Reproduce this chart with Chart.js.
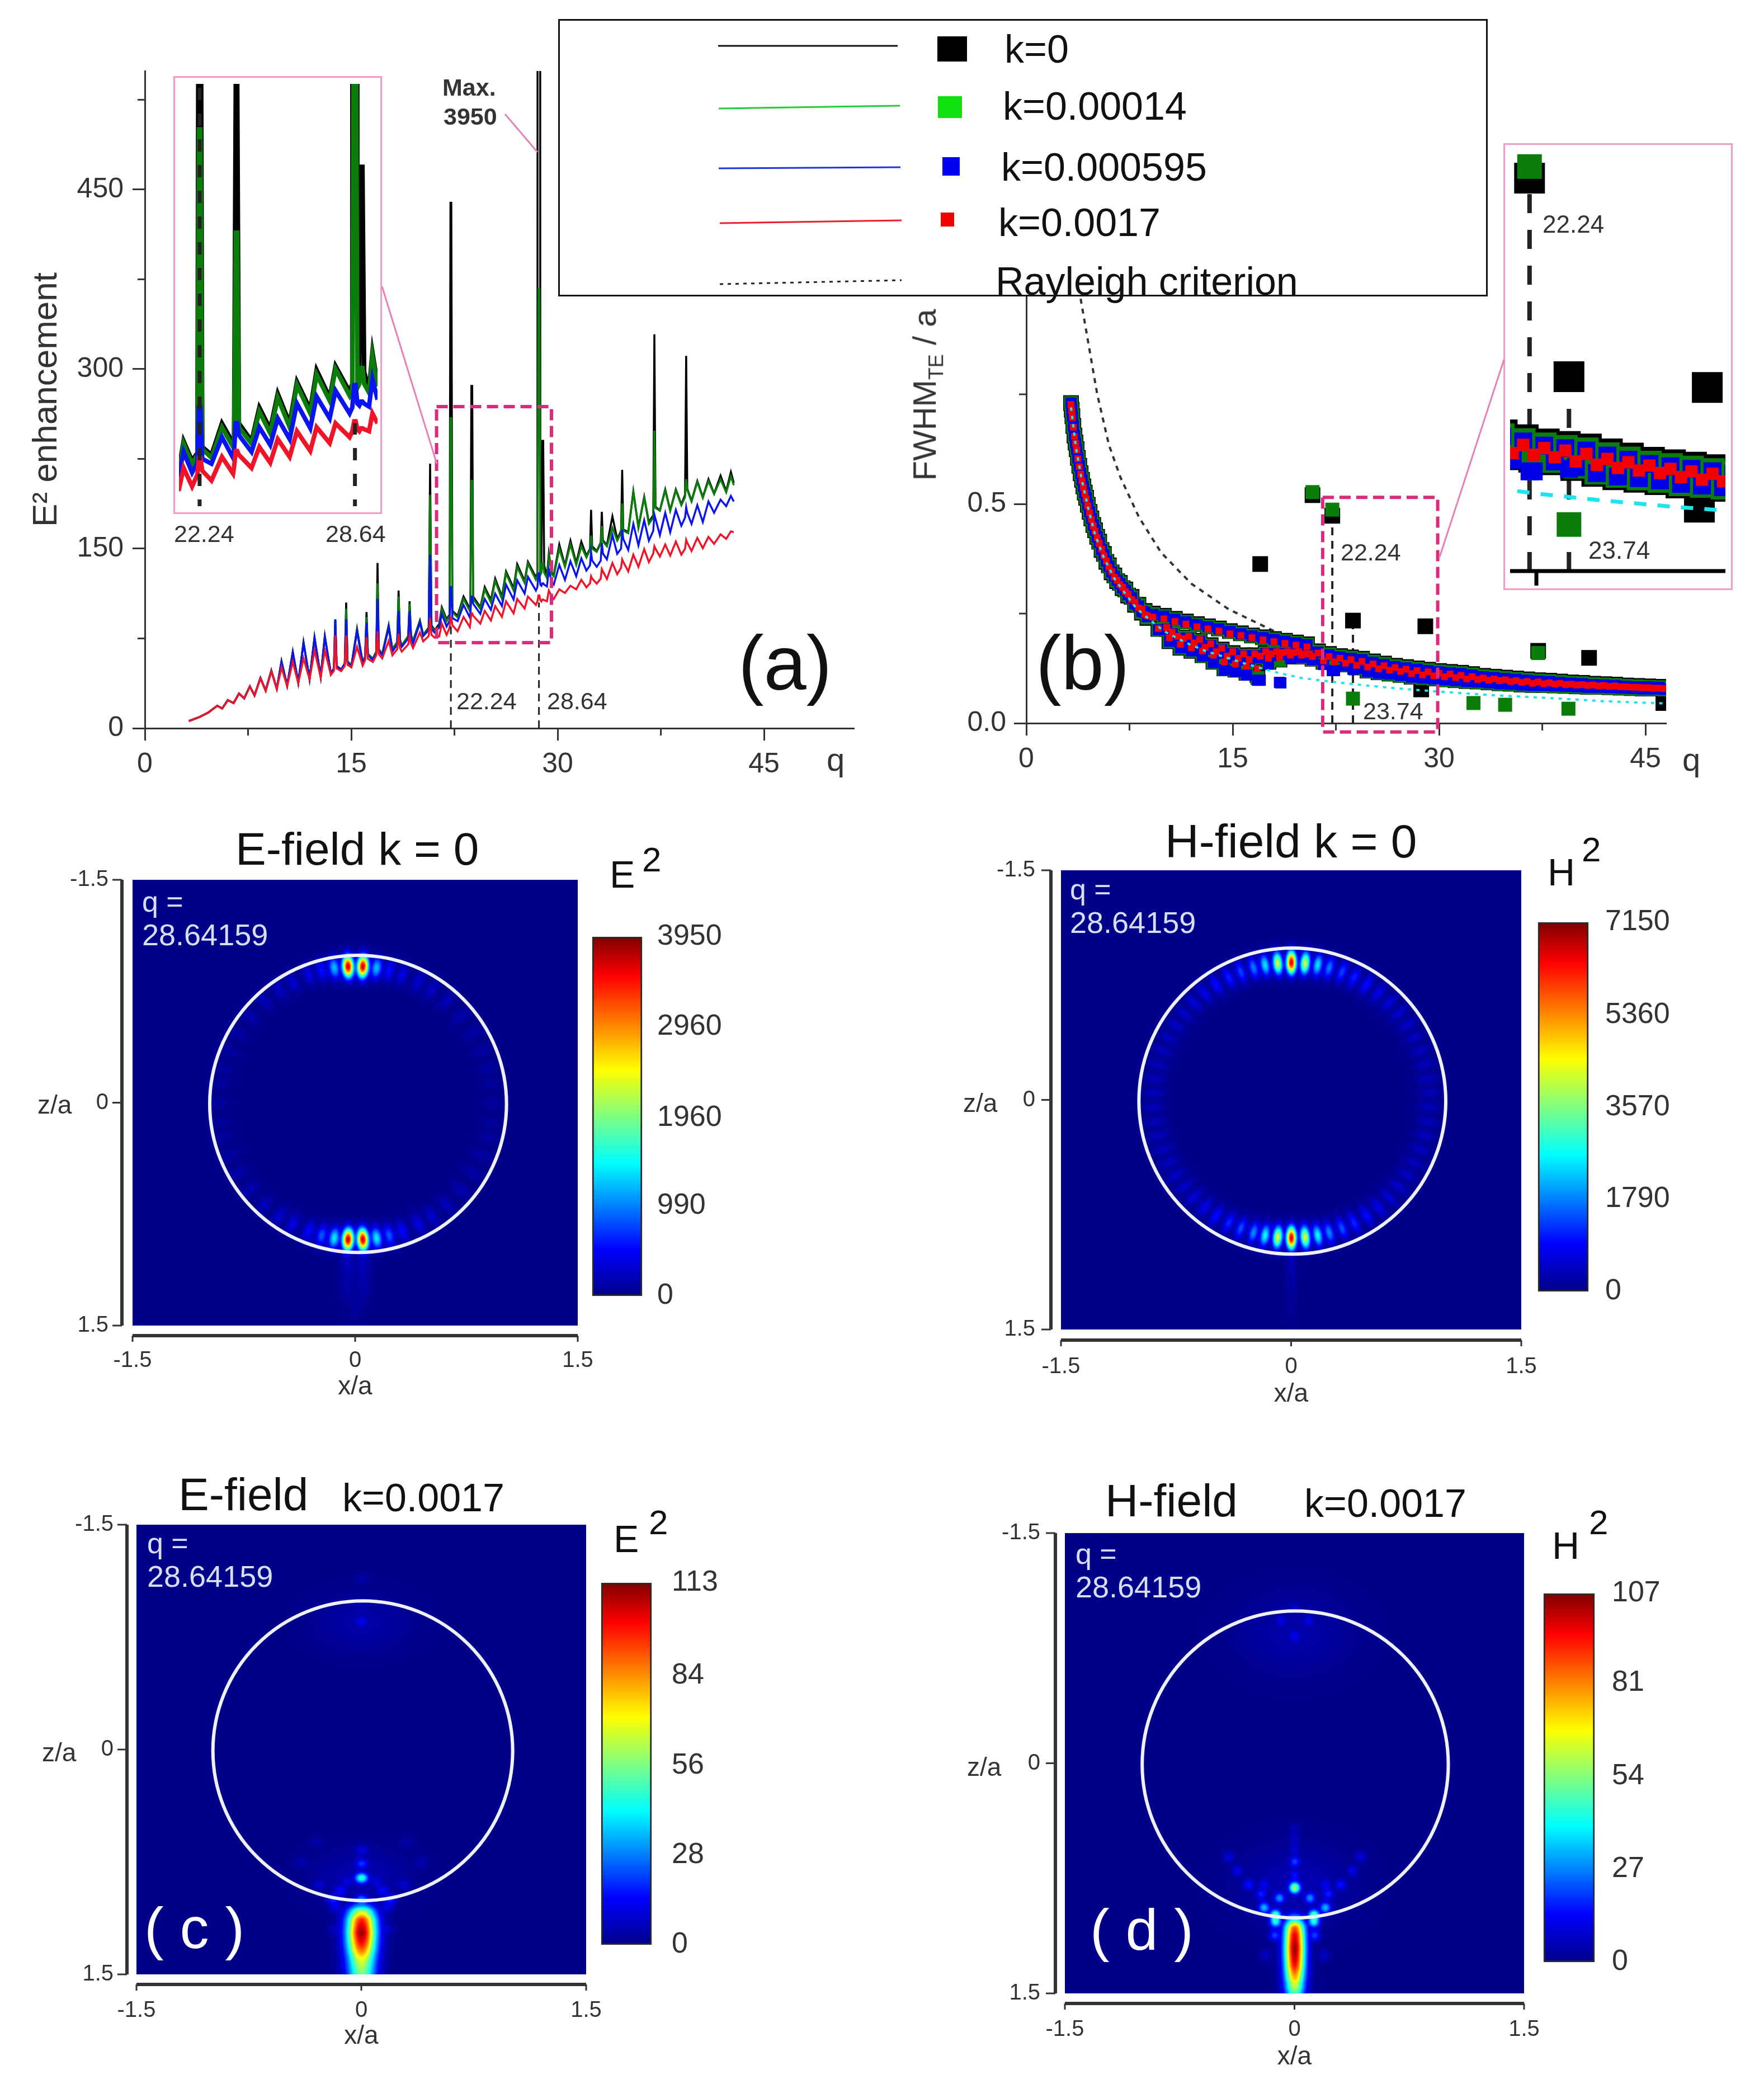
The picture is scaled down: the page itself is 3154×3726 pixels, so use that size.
<!DOCTYPE html>
<html>
<head>
<meta charset="utf-8">
<title>Field enhancement and FWHM</title>
<script src="https://cdn.jsdelivr.net/npm/chart.js@4"></script>
<style>
  html, body { margin: 0; background: #fff; }
  #page { position: relative; width: 3154px; height: 3726px; overflow: hidden; background: #fff; }
  #page canvas { position: absolute; }
  .lbl { position: absolute; white-space: pre; line-height: 1; font-family: "Liberation Sans", Arial, sans-serif; transform: translateY(-50%); }
  .frame { position: absolute; box-sizing: border-box; }
  #overlay { position: absolute; left: 0; top: 0; }
</style>
</head>
<body>
<div id="page"></div>
<script>
// panel (a): E2 enhancement against q
const enhQ = [
  3.2,3.9,4.6,5.26,5.62,6.03,6.45,6.84,7.22,7.63,
  7.97,8.4,8.78,9.19,9.59,9.93,10.34,10.75,11.15,11.53,
  11.97,12.33,12.78,13.08,13.52,13.74,13.84,13.94,14.27,14.53,
  14.63,14.73,15.01,15.42,15.83,16.01,16.11,16.21,16.57,16.82,
  16.91,17,17.25,17.72,17.99,18.34,18.44,18.54,18.67,19.14,
  19.24,19.34,19.49,19.99,20.23,20.63,20.73,20.83,21.05,21.39,
  21.58,21.93,22.15,22.21,22.27,22.35,22.73,23.16,23.62,23.66,23.73,23.79,
  23.86,24.38,24.7,25.15,25.46,25.95,26.25,26.8,27.06,27.6,
  27.84,28.42,28.53,28.61,28.67,28.74,28.82,28.89,28.95,29.02,29.22,29.36,
  29.57,29.72,30.12,30.53,30.93,31.35,31.72,32.09,32.35,32.43,
  32.51,32.84,33.13,33.21,33.29,33.58,33.98,34.33,34.61,34.69,
  34.77,35.13,35.5,35.87,36.29,36.63,36.95,37.03,37.11,37.43,
  37.82,38.18,38.59,38.99,39.26,39.34,39.42,39.73,40.15,40.55,
  40.96,41.37,41.84,42.25,42.59,42.8
];
const enhK0 = [
  6,9,13,18.8,16.5,23.5,21,29,25,35,
  27.4,42,31.5,48,33,56,35.5,64,38,72,
  41,76,43,77,45.5,50,91,52,49,54,
  105,56,52,83,55,60,97,62,58,64,
  138,66,62,86,66,72,115,74,69,77,
  106,78,73,90,78,84,221,86,82,87,
  101,91,95,439,439,98,94,110,100,103,286,286,
  110,101,118,107,125,110,131,117,137,123,
  139,126,130,3950,3950,132,134,240,240,136,127,146,
  130,128,153.5,136,156.7,138,155.9,144,150,182.4,
  152,148,155,180.8,157,153,176.9,158,165,215.9,
  166,164,197.9,168,193.3,172,178,329,185,182,
  199.5,182,199.5,187,195,311,200,190,206.5,193,
  208,196,211,198,214,205
];
const enhK00014 = [
  6,9,13,18.8,16.5,23.5,21,29,25,35,
  27.4,42,31.5,48,33,55.5,35.5,63.5,38,71.5,
  41,75.5,43,76.5,45.5,50,91,52,49,54,
  100,56,52,82,55,60,93,62,58,64,
  121,66,62,85,66,72,110,74,69,77,
  104,78,73,89,78,83,195,85,81,85,
  99.7,89.5,94,259,259,97,92.5,108,98,100,206.6,206.6,
  108,99.7,116,105,123,108,129.4,115,134.7,121.4,
  137.5,124,127,367,367,128,130,138,138,130,125.5,144,
  128.7,127,150,134.8,153.5,136.4,152,142.6,149,161,
  150,147.3,154,169,156,152,167.5,156.7,163,187.8,
  165,162.9,197,167.5,192.5,170.7,176,248.6,184,181.6,
  198.7,181.6,198.7,186.3,193,208,199,189.4,205.7,192.5,
  206.5,195.6,208,197,210.4,203
];
const enhK000595 = [
  6,9,13,18.8,16.5,23.5,21,29,25,35,
  27.4,42,31.5,48,33,55.4,35.5,63,38,71,
  41,75,43,76,45.5,50,90.5,52,49,54,
  91,55,52,80.6,54,59,88,61,57,63,
  108,65,61,84,64,70,98,72,68,75,
  98,76,71,88,77,82,145,83,80,84,
  95.5,85,90,118,118,92,89.5,103,92.5,96,110,110,
  104,95.5,108,99,112.5,102,120,107.5,123.6,112.5,
  126.5,115,118,129.4,129.4,120,119,121,121,120,118.5,132.4,
  122,120,136.4,123.9,139.5,127,141.9,131.7,136,147.3,
  140,134.8,140,155,146,141,161.3,145.7,150,166,
  158,148.9,170.7,152.8,173.8,156.7,165,178.5,175,161.3,
  180,163.7,182.4,169.1,176,184.7,180,170.7,186.3,172.2,
  189.4,180,190.9,185.5,194,189.4
];
const enhK0017 = [
  6,9,13,18.8,16.5,23.5,21,29,25,35,
  27.4,41.6,31.2,47.8,32.8,50.8,35.2,55.4,37.6,58.4,
  40.8,65,42.4,65,44.6,48,77.5,50,47.7,52,
  77.5,53,50.8,68,52.3,57,76,58,55.4,61,
  81,62,58.4,73,60.9,66,79,67,64,70,
  77,71,67,80,72.6,77,92,78,75.8,76.6,
  87.4,78,84,92.5,92.5,86,81,93,84.5,88,96,96,
  94,87.4,98,90,102,93,106,96,108,100,
  110,103,106,111,111,107,106,107.5,107.5,107,106,115,
  110,108,116,113,119,116,124,117.7,121,127,
  125,120.8,125,133,131,124.7,138,128.6,134,141,
  139,131,145,134.8,149.6,138.7,146,152,150,143.4,
  153.5,144.2,155.9,145,150,157.4,155,148,159,150.4,
  159.8,154,162,158.2,164.4,163.7
];
const markedQ = [22.24, 28.64];
const markedTopMain = [90, 105];
const markedTopInset = [282, 110];
const enhXTicks = [0, 15, 30, 45];
const enhXMinor = [7.5, 22.5, 37.5];
const enhYTicks = [0, 150, 300, 450];
const enhYMinor = [75, 225, 375, 525];

// panel (b): FWHM against q
const fwhmQ = [
  3.25,3.3,3.35,3.42,3.5,3.58,3.66,3.75,3.85,3.95,
  4.05,4.15,4.25,4.35,4.47,4.6,4.73,4.87,5.0,5.15,
  5.3,5.47,5.64,5.82,6.0,6.2,6.4,6.6,6.8,7.0,
  7.2,7.4,7.65,7.9,8.15,8.4,8.6,8.8,
  9.2,9.6,10.0,10.4,10.8,11.2,11.6,12.0,12.4,12.8,
  13.2,13.6,14.0,14.4,14.8,15.2,15.6,16.0,16.4,16.8,
  17.2,17.6,18.0,18.4,18.8,19.2,19.6,20.0,20.4,20.8,
  21.2,21.6,22.0,22.4,22.8,23.2,23.6,24.0,24.4,24.8,
  25.2,25.6,26.0,26.4,26.8,27.2,27.6,28.0,28.4,28.8,
  29.2,29.6,30.0,30.4,30.8,31.2,31.6,32.0,32.4,32.8,
  33.2,33.6,34.0,34.4,34.8,35.2,35.6,36.0,36.4,36.8,
  37.2,37.6,38.0,38.4,38.8,39.2,39.6,40.0,40.4,40.8,
  41.2,41.6,42.0,42.4,42.8,43.2,43.6,44.0,44.4,44.8,
  45.2,45.6,46.0,46.4
];
const fwhmK0 = [
  .73,.715,.70,.678,.656,.64,.625,.605,.587,.57,
  .555,.54,.526,.514,.498,.482,.467,.452,.44,.425,
  .414,.395,.386,.368,.36,.344,.337,.324,.32,.308,
  .305,.291,.288,.27,.27,.252,.256,.24,
  .25,.215,.245,.187,.238,.172,.232,.165,.226,.155,
  .221,.14,.216,.125,.21,.122,.205,.115,.2,.11,
  .196,.14,.192,.145,.188,.152,.184,.152,.18,.147,
  .164,.14,.158,.137,.153,.134,.15,.127,.147,.12,
  .141,.116,.136,.113,.131,.11,.128,.106,.125,.104,
  .122,.102,.119,.10,.117,.098,.115,.096,.112,.095,
  .108,.093,.106,.091,.104,.09,.102,.088,.10,.087,
  .098,.087,.097,.086,.095,.085,.093,.084,.092,.083,
  .09,.083,.089,.082,.088,.081,.086,.08,.085,.079,
  .084,.079,.083,.078
];
const fwhmK00014 = [
  .73,.715,.70,.678,.656,.64,.625,.605,.587,.57,
  .555,.54,.526,.514,.498,.482,.467,.452,.44,.425,
  .413,.396,.385,.369,.359,.345,.336,.325,.319,.309,
  .304,.292,.287,.271,.269,.253,.255,.241,
  .249,.214,.244,.187,.237,.172,.231,.165,.225,.154,
  .22,.139,.215,.124,.209,.121,.204,.114,.199,.103,
  .195,.138,.191,.144,.187,.151,.183,.151,.179,.146,
  .163,.139,.157,.136,.152,.133,.149,.126,.146,.119,
  .14,.115,.135,.112,.13,.109,.127,.105,.124,.103,
  .121,.101,.118,.099,.116,.097,.114,.095,.111,.094,
  .107,.092,.105,.09,.103,.089,.101,.087,.099,.086,
  .097,.086,.096,.085,.094,.084,.092,.083,.091,.082,
  .089,.082,.088,.081,.087,.08,.085,.079,.084,.078,
  .083,.078,.082,.077
];
const fwhmK000595 = [
  .73,.715,.70,.678,.656,.64,.625,.605,.587,.57,
  .555,.54,.526,.514,.498,.482,.467,.452,.44,.425,
  .412,.396,.384,.37,.358,.345,.335,.326,.318,.309,
  .303,.293,.286,.272,.267,.255,.253,.243,
  .248,.213,.244,.187,.237,.172,.231,.165,.225,.153,
  .22,.138,.215,.122,.209,.118,.204,.11,.199,.098,
  .195,.135,.191,.093,.187,.148,.183,.15,.179,.145,
  .162,.134,.156,.12,.151,.132,.148,.125,.145,.118,
  .139,.114,.134,.112,.129,.109,.126,.105,.123,.103,
  .12,.101,.117,.099,.115,.097,.113,.095,.11,.094,
  .106,.092,.104,.09,.102,.089,.1,.087,.098,.086,
  .096,.086,.095,.085,.093,.084,.091,.083,.09,.082,
  .088,.082,.087,.081,.086,.08,.084,.079,.083,.078,
  .083,.078,.082,.077
];
const fwhmK0017 = [
  .727,.712,.697,.675,.654,.638,.623,.603,.585,.568,
  .553,.538,.524,.512,.496,.48,.465,.45,.438,.423,
  .41,.397,.382,.37,.356,.346,.333,.326,.316,.31,
  .3,.294,.282,.276,.263,.26,.248,.245,
  .242,.216,.238,.195,.232,.18,.226,.172,.22,.165,
  .215,.155,.21,.14,.204,.135,.2,.13,.195,.125,
  .19,.148,.186,.15,.182,.155,.178,.155,.174,.152,
  .16,.142,.152,.14,.148,.137,.145,.132,.141,.128,
  .135,.124,.131,.121,.127,.118,.123,.113,.12,.11,
  .117,.108,.114,.106,.112,.104,.109,.101,.106,.1,
  .103,.098,.101,.097,.099,.095,.097,.093,.095,.091,
  .094,.09,.092,.089,.091,.088,.089,.087,.088,.086,
  .087,.085,.086,.084,.085,.083,.083,.082,.082,.081,
  .081,.08,.08,.079
];
// points between the two branches for q of 10 to 21
const midQ = [10.2,10.6,11,11.4,11.8,12.2,12.6,13,13.4,13.8,14.2,14.6,15,15.4,15.8,16.2,16.6,17,17.4,17.8,18.2,18.6,19,19.4,19.8,20.2,20.6];
const midK0 = [.215,.205,.195,.19,.195,.18,.188,.17,.178,.16,.168,.15,.16,.145,.155,.142,.155,.15,.16,.155,.16,.158,.16,.158,.16,.155,.155];
const midK00014 = [.215,.205,.195,.19,.195,.18,.187,.17,.177,.16,.167,.15,.159,.145,.154,.142,.154,.15,.159,.155,.159,.158,.159,.158,.159,.155,.154];
const midK000595 = [.214,.204,.194,.189,.194,.179,.187,.169,.177,.159,.167,.149,.159,.144,.154,.141,.154,.149,.159,.154,.159,.157,.159,.157,.159,.154,.154];
const midK0017 = [.218,.208,.198,.193,.198,.183,.191,.173,.181,.163,.171,.153,.163,.148,.158,.145,.158,.153,.163,.158,.163,.161,.163,.161,.163,.158,.158];
const outBlackQ = [17, 20.8, 22.24, 23.74, 29, 28.7, 37.2, 40.9, 46.3];
const outBlackV = [.363, .52, .473, .234, .221, .077, .165, .149, .046];
const outGreenQ = [20.8, 22.24, 23.74, 32.5, 34.8, 37.2, 39.4];
const outGreenV = [.527, .487, .056, .046, .042, .16, .033];
const outBlueQ = [17, 18.5, 22.24, 23.74];
const outBlueV = [.098, .092, .12, .123];
const rayleighQ = [3.95, 5.15, 6, 6.85, 8.2, 9.8, 12, 14.7, 18.2, 20.9, 23, 25];
const rayleighV = [.968, .751, .635, .56, .469, .389, .318, .26, .207, .176, .16, .15];
const cyanQ = [3.25, 3.6, 4, 4.5, 5, 5.6, 6.4, 7.2, 8, 9, 10, 11.5, 13, 14.5, 16, 18, 20, 22.6, 25, 27.5, 30, 33.8, 37, 39.4, 42, 45.6, 46.4];
const cyanV = [.72, .63, .56, .49, .43, .38, .33, .295, .262, .235, .21, .185, .165, .15, .135, .117, .103, .093, .085, .078, .072, .064, .059, .055, .05, .046, .045];
const stemQ = [22.24, 23.74];
const stemTop = [.473, .234];
const fwhmXTicks = [0, 15, 30, 45];
const fwhmXMinor = [7.5, 22.5, 37.5];
const fwhmYTicks = [0, .5];
const fwhmYMinor = [.25, .75];

// field maps: hot spots, value in the map's own units
const mapAxisTicks = [-1.5, 0, 1.5];
const sphereRadius = 1;
const e0RingAngle = [3.1, 8.9, 14.3, 20, 27.5, 34, 41.8, 50.7, 59.3, 67.6, 75.5, 81.6, 90];
const e0RingTop = [3950, 1300, 600, 420, 320, 280, 220, 180, 150, 130, 110, 100, 100];
const e0RingBottom = [3950, 1500, 900, 560, 420, 320, 240, 200, 160, 130, 110, 100, 100];
const e0TailX = [-.05, .05, -.05, .05, 0];
const e0TailZ = [1.08, 1.08, 1.22, 1.22, 1.36];
const e0TailV = [220, 220, 150, 150, 90];
const h0RingAngle = [0, 5.7, 11, 15.9, 21.5, 27, 33, 39, 45, 51, 57, 63, 69, 75, 81, 87];
const h0RingTop = [7150, 4500, 2700, 1900, 1500, 1250, 1100, 850, 700, 600, 550, 500, 480, 460, 450, 450];
const h0RingBottom = [7150, 4600, 2900, 2000, 1600, 1300, 1100, 850, 700, 600, 550, 500, 480, 460, 450, 450];
const h0TailX = [0, 0, 0];
const h0TailZ = [1.06, 1.18, 1.32];
const h0TailV = [380, 240, 150];

const cBeamZ = [1.06, 1.1, 1.14, 1.18, 1.22, 1.26, 1.3, 1.34, 1.38, 1.42, 1.46, 1.5];
const cBeamV = [30, 75, 102, 110, 116, 110, 102, 90, 76, 68, 62, 57];
const cSpotX = [0, 0, 0, 0, -.14, .14, -.19, .19, -.28, .28, -.1, .1, -.4, .4, -.3, .3, 0, 0, 0, -.17, .17, -.17, .17];
const cSpotZ = [.855, .76, .67, 1.0, .94, .94, 1.0, 1.0, .9, .9, .88, .88, .75, .75, .62, .62, -.857, -1.14, -.97, 1.05, 1.05, 1.2, 1.2];
const cSpotV = [55, 24, 13, 34, 18, 18, 22, 22, 11, 11, 13, 13, 6, 6, 5, 5, 15, 5, 6, 14, 14, 10, 10];
const cGlowX = [0, 0];
const cGlowZ = [.85, -.85];
const cGlowV = [5, 4];

const dBeamZ = [1.04, 1.08, 1.12, 1.16, 1.2, 1.24, 1.28, 1.32, 1.36, 1.4, 1.45, 1.5];
const dBeamV = [50, 92, 102, 106, 110, 108, 104, 98, 87, 77, 64, 50];
const dSpotX = [0, -.126, .126, -.2, .2, -.1, .1, -.22, .22, -.3, .3, -.375, .375, -.43, .43, 0, 0, 0, 0, 0, -.2, .2, 0, -.09, .09, 0, -.125, .125, -.13, .13, -.19, .19];
const dSpotZ = [.81, .99, .99, .94, .94, .877, .877, .85, .85, .79, .79, .7, .7, .61, .61, .64, .73, .56, .49, .42, .79, .79, -.83, -.93, -.93, -1.005, 1.03, 1.03, 1.12, 1.12, 1.25, 1.25];
const dSpotV = [68, 62, 62, 38, 38, 33, 33, 20, 20, 18, 18, 13, 13, 11, 11, 24, 18, 11, 9, 6, 15, 15, 15, 13, 13, 11, 50, 50, 24, 24, 8, 8];
const dGlowX = [0, 0];
const dGlowZ = [.8, -.85];
const dGlowV = [5, 4];

const e0BarTicks = [0, 990, 1960, 2960, 3950];
const h0BarTicks = [0, 1790, 3570, 5360, 7150];
const cBarTicks = [0, 28, 56, 84, 113];
const dBarTicks = [0, 27, 54, 81, 107];

const legendLabels = ['k=0', 'k=0.00014', 'k=0.000595', 'k=0.0017', 'Rayleigh criterion'];
const legendLineColors = ['#111111', '#22cc33', '#2233dd', '#e8202c', '#222222'];
const legendBoxColors = ['#000000', '#10e010', '#0000f0', '#f00000'];

const jetPos = [0, .13, .37, .63, .89, 1];
const jetRGB = [[0, 0, 136], [0, 0, 255], [0, 255, 255], [255, 255, 0], [255, 0, 0], [127, 0, 0]];

const FONT = '"Liberation Sans", Arial, sans-serif';
const INK = '#333333';
const PINK = '#dc2a7c';
const DARK_GREEN = '#0b7d0b';
Chart.defaults.font.family = FONT;
Chart.defaults.color = INK;

const page = document.getElementById('page');

function addLabel(text, x, y, size, extra) {
    const el = document.createElement('div');
    el.className = 'lbl';
    el.textContent = text;
    el.style.left = x + 'px';
    el.style.top = y + 'px';
    el.style.fontSize = size + 'px';
    el.style.color = INK;
    Object.assign(el.style, extra || {});
    page.appendChild(el);
    return el;
}

function addFrame(l, t, r, b, border) {
    const el = document.createElement('div');
    el.className = 'frame';
    el.style.cssText = `left:${l}px;top:${t}px;width:${r - l}px;height:${b - t}px;border:${border};`;
    page.appendChild(el);
    return el;
}

// canvas placed so that the chart area lands on the given rectangle
function placeCanvas(area, m) {
    const c = document.createElement('canvas');
    c.width = area.r - area.l + m.l + m.r;
    c.height = area.b - area.t + m.t + m.b;
    c.style.left = (area.l - m.l) + 'px';
    c.style.top = (area.t - m.t) + 'px';
    c.style.width = c.width + 'px';
    c.style.height = c.height + 'px';
    page.appendChild(c);
    return c;
}

function pts(xs, ys) {
    return xs.map((x, i) => ({ x, y: ys[i] }));
}

function baseOptions(padding, pluginOptions) {
    return {
        responsive: false,
        animation: false,
        devicePixelRatio: 1,
        events: [],
        layout: { autoPadding: false, padding },
        plugins: Object.assign({ legend: { display: false }, tooltip: { enabled: false }, title: { display: false } }, pluginOptions || {})
    };
}

function lineSet(label, xs, ys, color, width, order, dash) {
    return {
        label, data: pts(xs, ys), showLine: true, borderColor: color, borderWidth: width,
        pointRadius: 0, tension: 0, clip: 0, order, borderDash: dash || []
    };
}

function squareSet(label, xs, ys, color, side, order) {
    return {
        label, data: pts(xs, ys), showLine: false, pointStyle: 'rect', pointRadius: side * Math.SQRT1_2,
        pointBackgroundColor: color, pointBorderWidth: 0, clip: 0, order
    };
}

function plotAxis(min, max, ticks, fmt, tickLen, padding, fixed, extra) {
    return Object.assign({
        type: 'linear', min, max,
        afterBuildTicks: s => { s.ticks = ticks.map(v => ({ value: v })); },
        afterFit: fixed,
        border: { display: true, color: INK, width: 3 },
        grid: { drawOnChartArea: false, drawTicks: true, tickLength: tickLen, tickColor: INK, tickWidth: 3 },
        ticks: { autoSkip: false, maxRotation: 0, minRotation: 0, padding, font: { size: 50 }, color: INK, callback: fmt }
    }, extra || {});
}

// minor ticks and the dashed zoom box, both positioned through the scales
const plotDecor = {
    id: 'plotDecor',
    afterDraw(chart, args, o) {
        const { ctx, scales: { x, y } } = chart;
        ctx.save();
        ctx.strokeStyle = INK;
        ctx.lineWidth = 3;
        (o.minorX || []).forEach(v => {
            const px = x.getPixelForValue(v);
            ctx.beginPath(); ctx.moveTo(px, y.bottom); ctx.lineTo(px, y.bottom + 13); ctx.stroke();
        });
        (o.minorY || []).forEach(v => {
            const py = y.getPixelForValue(v);
            ctx.beginPath(); ctx.moveTo(x.left, py); ctx.lineTo(x.left - 13, py); ctx.stroke();
        });
        if (o.zoomQ) {
            ctx.strokeStyle = PINK;
            ctx.lineWidth = 6;
            ctx.setLineDash([20, 10]);
            const l = x.getPixelForValue(o.zoomQ[0]), r = x.getPixelForValue(o.zoomQ[1]);
            const t = y.getPixelForValue(o.zoomV[1]), b = y.getPixelForValue(o.zoomV[0]);
            ctx.strokeRect(l, t, r - l, b - t);
        }
        if (o.baseTick !== undefined) {
            ctx.strokeStyle = '#000';
            ctx.lineWidth = 7;
            const px = x.getPixelForValue(o.baseTick);
            ctx.beginPath(); ctx.moveTo(x.left, y.bottom); ctx.lineTo(x.right, y.bottom); ctx.stroke();
            ctx.beginPath(); ctx.moveTo(px, y.bottom); ctx.lineTo(px, y.bottom + 26); ctx.stroke();
        }
        ctx.restore();
    }
};

function enhancementSets(width, dashWidth, dash, tops) {
    return [
        lineSet('22.24', [markedQ[0], markedQ[0]], [0, tops[0]], '#222', dashWidth, 0, dash),
        lineSet('28.64', [markedQ[1], markedQ[1]], [0, tops[1]], '#222', dashWidth, 0, dash),
        lineSet('k=0.0017', enhQ, enhK0017, '#f01428', width, 1),
        lineSet('k=0.000595', enhQ, enhK000595, '#0a14ee', width, 2),
        lineSet('k=0.00014', enhQ, enhK00014, DARK_GREEN, width, 3),
        lineSet('k=0', enhQ, enhK0, '#000000', width, 4)
    ];
}

function drawEnhancement() {
    const area = { l: 259, r: 1527, t: 127, b: 1302 };
    const m = { l: 212, r: 40, t: 60, b: 90 };
    new Chart(placeCanvas(area, m), {
        type: 'scatter',
        data: { datasets: enhancementSets(3.5, 3, [14, 10], markedTopMain) },
        options: Object.assign(baseOptions({ left: 0, right: m.r, top: m.t, bottom: 0 }, {
            plotDecor: { minorX: enhXMinor, minorY: enhYMinor, zoomQ: [21.2, 29.55], zoomV: [71.5, 268.7] }
        }), {
            scales: {
                x: plotAxis(0, 51.54, enhXTicks, v => String(v), 22, 13, s => { s.height = m.b; }),
                y: plotAxis(0, 549, enhYTicks, v => String(v), 22, 16, s => { s.width = m.l; }, {
                    title: { display: true, text: 'E² enhancement', font: { size: 62 }, color: INK, padding: 0 }
                })
            }
        }),
        plugins: [plotDecor]
    });
}

function drawEnhancementInset() {
    const area = { l: 320, r: 675, t: 150, b: 905 };
    new Chart(placeCanvas(area, { l: 0, r: 0, t: 0, b: 0 }), {
        type: 'scatter',
        data: { datasets: enhancementSets(8, 7, [22, 24], markedTopInset) },
        options: Object.assign(baseOptions(0), {
            scales: {
                x: { type: 'linear', min: 21.39, max: 29.57, display: false },
                y: { type: 'linear', min: 68, max: 282, display: false }
            }
        })
    });
}

function fwhmSets(sizes, cyanWidth, cyanDash, rayWidth, rayDash, stemWidth, stemDash) {
    return [
        lineSet('cyan', cyanQ, cyanV, '#20e4ec', cyanWidth, 0, cyanDash),
        squareSet('k=0.0017', fwhmQ, fwhmK0017, '#f40000', sizes[3], 1),
        squareSet('k=0.0017 middle', midQ, midK0017, '#f40000', sizes[3], 1),
        squareSet('k=0.000595', fwhmQ, fwhmK000595, '#0000e6', sizes[2], 2),
        squareSet('k=0.000595 middle', midQ, midK000595, '#0000e6', sizes[2], 2),
        squareSet('k=0.000595 resonances', outBlueQ, outBlueV, '#0000e6', sizes[2], 2),
        squareSet('k=0.00014', fwhmQ, fwhmK00014, DARK_GREEN, sizes[1], 3),
        squareSet('k=0.00014 middle', midQ, midK00014, DARK_GREEN, sizes[1], 3),
        squareSet('k=0.00014 resonances', outGreenQ, outGreenV, DARK_GREEN, sizes[1], 3),
        squareSet('k=0', fwhmQ, fwhmK0, '#000000', sizes[0], 4),
        squareSet('k=0 middle', midQ, midK0, '#000000', sizes[0], 4),
        squareSet('k=0 resonances', outBlackQ, outBlackV, '#000000', sizes[0], 4),
        lineSet('Rayleigh criterion', rayleighQ, rayleighV, '#333', rayWidth, 5, rayDash),
        lineSet('22.24', [stemQ[0], stemQ[0]], [0, stemTop[0]], '#222', stemWidth, 6, stemDash),
        lineSet('23.74', [stemQ[1], stemQ[1]], [0, stemTop[1]], '#222', stemWidth, 6, stemDash)
    ];
}

function drawFwhm() {
    const area = { l: 1835, r: 2979, t: 509, b: 1293 };
    const m = { l: 150, r: 40, t: 60, b: 90 };
    new Chart(placeCanvas(area, m), {
        type: 'scatter',
        data: { datasets: fwhmSets([28, 25, 20, 12], 4, [6, 9], 4, [9, 9], 4, [14, 10]) },
        options: Object.assign(baseOptions({ left: 0, right: m.r, top: m.t, bottom: 0 }, {
            plotDecor: { minorX: fwhmXMinor, minorY: fwhmYMinor, zoomQ: [21.54, 29.9], zoomV: [-.02, .515] }
        }), {
            scales: {
                x: plotAxis(0, 46.5, fwhmXTicks, v => String(v), 22, 13, s => { s.height = m.b; }),
                y: plotAxis(0, 1, fwhmYTicks, v => v.toFixed(1), 22, 14, s => { s.width = m.l; })
            }
        }),
        plugins: [plotDecor]
    });
}

function drawFwhmInset() {
    const area = { l: 2700, r: 3085, t: 262, b: 1021 };
    const m = { l: 0, r: 0, t: 0, b: 30 };
    new Chart(placeCanvas(area, m), {
        type: 'scatter',
        data: { datasets: fwhmSets([55, 44, 32, 22], 7, [22, 20], 4, [9, 9], 8, [34, 30]) },
        options: Object.assign(baseOptions({ top: 0, left: 0, right: 0, bottom: m.b }, { plotDecor: { baseTick: 22.5 } }), {
            scales: {
                x: { type: 'linear', min: 21.5, max: 29.69, display: false },
                y: { type: 'linear', min: 0, max: .511, display: false }
            }
        }),
        plugins: [plotDecor]
    });
}

// jet lookup table, shared by the maps and the colour bars
const jetLUT = [];
for (let i = 0; i < 256; i++) {
    const t = i / 255;
    let k = 0;
    while (k < jetPos.length - 2 && t > jetPos[k + 1]) k++;
    const f = (t - jetPos[k]) / (jetPos[k + 1] - jetPos[k]);
    jetLUT.push(jetRGB[k].map((c, j) => Math.round(c + (jetRGB[k + 1][j] - c) * f)));
}

// box blur along one direction, softens the seams between neighbouring spots
function blurField(src, w, h, r, horizontal) {
    const out = new Float32Array(src.length);
    const lines = horizontal ? h : w, len = horizontal ? w : h;
    for (let a = 0; a < lines; a++) {
        for (let b = 0; b < len; b++) {
            let sum = 0, n = 0;
            for (let k = Math.max(0, b - r); k <= Math.min(len - 1, b + r); k++) {
                sum += horizontal ? src[a * w + k] : src[k * w + a];
                n++;
            }
            out[horizontal ? a * w + b : b * w + a] = sum / n;
        }
    }
    return out;
}

// the dataset points give each spot's pixel position; the spots are merged into one colour mapped field
const heatField = {
    id: 'heatField',
    beforeDatasetsDraw(chart, args, o) {
        const { ctx, chartArea: a, scales: { x } } = chart;
        const w = Math.round(a.right - a.left), h = Math.round(a.bottom - a.top);
        const unit = x.getPixelForValue(1) - x.getPixelForValue(0);
        let field = new Float32Array(w * h);
        chart.data.datasets.forEach((ds, di) => {
            const els = chart.getDatasetMeta(di).data;
            const st = ds.sigmaT * unit, sr = ds.sigmaR * unit;
            const reach = 2.4 * Math.max(st, sr);
            els.forEach((el, i) => {
                const d = ds.data[i];
                const v = d.v / o.max;
                const px = el.x - a.left, py = el.y - a.top;
                const rr = Math.hypot(d.x, d.y) || 1;
                const ux = ds.radial ? d.x / rr : 0, uy = ds.radial ? d.y / rr : 1;
                for (let yy = Math.max(0, Math.floor(py - reach)); yy < Math.min(h, py + reach); yy++) {
                    for (let xx = Math.max(0, Math.floor(px - reach)); xx < Math.min(w, px + reach); xx++) {
                        const dx = xx - px, dy = yy - py;
                        const dr = dx * ux + dy * uy;
                        const dt = dx * uy - dy * ux;
                        const val = v * Math.exp(-(dt * dt) / (st * st) - (dr * dr) / (sr * sr));
                        if (val > field[yy * w + xx]) field[yy * w + xx] = val;
                    }
                }
            });
        });
        field = blurField(blurField(field, w, h, 3, true), w, h, 5, false);
        const img = new ImageData(w, h);
        for (let i = 0; i < w * h; i++) {
            const c = jetLUT[Math.min(255, Math.round(field[i] * 255))];
            img.data[i * 4] = c[0]; img.data[i * 4 + 1] = c[1]; img.data[i * 4 + 2] = c[2]; img.data[i * 4 + 3] = 255;
        }
        const off = document.createElement('canvas');
        off.width = w; off.height = h;
        off.getContext('2d').putImageData(img, 0, 0);
        ctx.drawImage(off, a.left, a.top, a.right - a.left, a.bottom - a.top);
    },
    afterDraw(chart, args, o) {
        const { ctx, chartArea: a, scales: { x, y } } = chart;
        // sphere outline
        ctx.save();
        ctx.strokeStyle = '#eef1fb';
        ctx.lineWidth = 6;
        ctx.beginPath();
        ctx.ellipse(x.getPixelForValue(o.shift), y.getPixelForValue(.008),
            x.getPixelForValue(sphereRadius) - x.getPixelForValue(0),
            y.getPixelForValue(sphereRadius) - y.getPixelForValue(0), 0, 0, Math.PI * 2);
        ctx.stroke();
        // axes sit a little away from the map
        ctx.strokeStyle = '#333';
        ctx.lineWidth = 6;
        const ax = a.left - o.gapL, ay = a.bottom + o.gapB;
        ctx.beginPath(); ctx.moveTo(ax, a.top); ctx.lineTo(ax, a.bottom); ctx.stroke();
        ctx.beginPath(); ctx.moveTo(a.left, ay); ctx.lineTo(a.right, ay); ctx.stroke();
        ctx.lineWidth = 3;
        mapAxisTicks.forEach(v => {
            const py = y.getPixelForValue(v), px = x.getPixelForValue(v);
            ctx.beginPath(); ctx.moveTo(ax, py); ctx.lineTo(ax - 17, py); ctx.stroke();
            ctx.beginPath(); ctx.moveTo(px, ay); ctx.lineTo(px, ay + 11); ctx.stroke();
        });
        ctx.restore();
    }
};

function ringSpots(angles, top, bottom, r) {
    const out = [];
    angles.forEach((deg, i) => {
        const s = Math.sin(deg * Math.PI / 180) * r, c = Math.cos(deg * Math.PI / 180) * r;
        out.push({ x: s, y: -c, v: top[i] }, { x: -s, y: -c, v: top[i] });
        out.push({ x: s, y: c, v: bottom[i] }, { x: -s, y: c, v: bottom[i] });
    });
    return out;
}

function spotList(xs, zs, vs) {
    return xs.map((x, i) => ({ x, y: zs[i], v: vs[i] }));
}

function spotSet(data, sigmaT, sigmaR, radial) {
    return { data, sigmaT, sigmaR, radial, pointRadius: 0, showLine: false, clip: 0 };
}

function drawMap(area, gapL, gapB, padY, padX, titleDrop, groups, max, shift) {
    const m = { l: 130, r: 110, t: 90, b: titleDrop };
    new Chart(placeCanvas(area, m), {
        type: 'scatter',
        data: { datasets: groups },
        options: Object.assign(baseOptions({ left: 0, right: m.r, top: m.t, bottom: 0 }, { heatField: { max, gapL, gapB, shift } }), {
            scales: {
                x: {
                    type: 'linear', min: -1.5, max: 1.5,
                    afterBuildTicks: s => { s.ticks = mapAxisTicks.map(v => ({ value: v })); },
                    afterFit: s => { s.height = m.b; },
                    border: { display: false },
                    grid: { display: false, drawTicks: false },
                    ticks: { autoSkip: false, maxRotation: 0, padding: padX, font: { size: 40 }, color: INK, callback: v => String(v) },
                    title: { display: true, text: 'x/a', font: { size: 46 }, color: INK, padding: 0 }
                },
                y: {
                    type: 'linear', min: -1.5, max: 1.5, reverse: true,
                    afterBuildTicks: s => { s.ticks = mapAxisTicks.map(v => ({ value: v })); },
                    afterFit: s => { s.width = m.l; },
                    border: { display: false },
                    grid: { display: false, drawTicks: false },
                    ticks: { autoSkip: false, padding: padY, font: { size: 40 }, color: INK, callback: v => String(v) }
                }
            }
        }),
        plugins: [heatField]
    });
}

function drawColorBar(area, max, ticks, padding) {
    const m = { l: 6, r: 190, t: 90, b: 90 };
    new Chart(placeCanvas(area, m), {
        type: 'bar',
        data: {
            labels: [''],
            datasets: [{
                data: [[0, max]],
                barPercentage: 1, categoryPercentage: 1, borderWidth: 3, borderColor: '#2a2a2a', borderSkipped: false, clip: false,
                backgroundColor: ctx => {
                    const a = ctx.chart.chartArea;
                    if (!a) return '#000088';
                    const g = ctx.chart.ctx.createLinearGradient(0, a.bottom, 0, a.top);
                    jetPos.forEach((p, i) => g.addColorStop(p, `rgb(${jetRGB[i].join(',')})`));
                    return g;
                }
            }]
        },
        options: Object.assign(baseOptions({ left: m.l, right: 0, top: m.t, bottom: m.b }), {
            scales: {
                x: { display: false },
                y: {
                    type: 'linear', position: 'right', min: 0, max,
                    afterBuildTicks: s => { s.ticks = ticks.map(v => ({ value: v })); },
                    afterFit: s => { s.width = m.r; },
                    border: { display: false },
                    grid: { display: false, drawTicks: false },
                    ticks: { autoSkip: false, padding, font: { size: 52 }, color: INK, callback: v => String(v) }
                }
            }
        })
    });
}

function drawLegend() {
    const box = addFrame(998, 34, 2660, 530, '3px solid #111');
    box.style.background = '#fff';
    const rows = [
        { line: [1284, 82, 1605, 82], sq: [1676, 65, 53, 45], text: [1796, 88] },
        { line: [1285, 194, 1609, 189], sq: [1677, 172, 43, 39], text: [1793, 190] },
        { line: [1285, 301, 1610, 299], sq: [1685, 281, 31, 33], text: [1790, 299] },
        { line: [1287, 399, 1612, 394], sq: [1682, 380, 24, 25], text: [1785, 398] },
        { line: [1287, 508, 1612, 501], text: [1780, 503] }
    ];
    const NS = 'http://www.w3.org/2000/svg';
    const svg = document.createElementNS(NS, 'svg');
    svg.setAttribute('id', 'overlay');
    svg.setAttribute('width', 3154);
    svg.setAttribute('height', 3726);
    const addLine = (x1, y1, x2, y2, color, width, dash) => {
        const l = document.createElementNS(NS, 'line');
        l.setAttribute('x1', x1); l.setAttribute('y1', y1); l.setAttribute('x2', x2); l.setAttribute('y2', y2);
        l.setAttribute('stroke', color); l.setAttribute('stroke-width', width);
        if (dash) l.setAttribute('stroke-dasharray', dash);
        svg.appendChild(l);
    };
    rows.forEach((row, i) => {
        addLine(row.line[0], row.line[1], row.line[2], row.line[3], legendLineColors[i], 3, i === 4 ? '6 8' : '');
        if (row.sq) {
            const r = document.createElementNS(NS, 'rect');
            r.setAttribute('x', row.sq[0]); r.setAttribute('y', row.sq[1]);
            r.setAttribute('width', row.sq[2]); r.setAttribute('height', row.sq[3]);
            r.setAttribute('fill', legendBoxColors[i]);
            svg.appendChild(r);
        }
    });
    // pink leader lines to the insets and the max note
    addLine(683, 512, 781, 829, '#ea7fb4', 3);
    addLine(903, 204, 961, 272, '#ea7fb4', 3);
    addLine(2574, 996, 2689, 643, '#ea7fb4', 3);
    page.appendChild(svg);
    rows.forEach((row, i) => addLabel(legendLabels[i], row.text[0], row.text[1], 70, { color: '#111' }));
}

function addMapText(o) {
    addLabel('q =', o.qx, o.qy, 52, { color: '#d8def2' });
    addLabel('28.64159', o.qx, o.qy + 59, 54, { color: '#d8def2' });
    addLabel('z/a', o.zx, o.zy, 46);
    addLabel(o.sym, o.sx, o.sy, 68, { color: '#111' });
    addLabel('2', o.tx, o.ty, 62, { color: '#111' });
}

drawEnhancement();
drawEnhancementInset();
drawFwhm();
drawFwhmInset();

drawMap({ l: 237, r: 1033, t: 1573, b: 2370 }, 19, 18, 43, 39, 138,
    [spotSet(ringSpots(e0RingAngle, e0RingTop, e0RingBottom, .92), .036, .07, true),
     spotSet(spotList(e0TailX, e0TailZ, e0TailV), .05, .12, false)], 3950, .02);
drawMap({ l: 1897, r: 2720, t: 1556, b: 2377 }, 18, 19, 46, 43, 144,
    [spotSet(ringSpots(h0RingAngle, h0RingTop, h0RingBottom, .9), .03, .07, true),
     spotSet(spotList(h0TailX, h0TailZ, h0TailV), .03, .12, false)], 7150, .008);
drawMap({ l: 244, r: 1048, t: 2726, b: 3530 }, 17, 18, 41, 41, 139,
    [spotSet(spotList(cBeamZ.map(() => 0), cBeamZ, cBeamV), .095, .06, false),
     spotSet(spotList(cSpotX, cSpotZ, cSpotV), .045, .032, false),
     spotSet(spotList(cGlowX, cGlowZ, cGlowV), .3, .18, false)], 113, .01);
drawMap({ l: 1904, r: 2725, t: 2741, b: 3564 }, 17, 18, 44, 41, 142,
    [spotSet(spotList(dBeamZ.map(() => 0), dBeamZ, dBeamV), .065, .06, false),
     spotSet(spotList(dSpotX, dSpotZ, dSpotV), .036, .034, false),
     spotSet(spotList(dGlowX, dGlowZ, dGlowV), .35, .25, false)], 107, .005);

drawColorBar({ l: 1059, r: 1148, t: 1675, b: 2317 }, 3950, e0BarTicks, 27);
drawColorBar({ l: 2750, r: 2840, t: 1649, b: 2309 }, 7150, h0BarTicks, 30);
drawColorBar({ l: 1075, r: 1165, t: 2830, b: 3477 }, 113, cBarTicks, 36);
drawColorBar({ l: 2760, r: 2851, t: 2849, b: 3508 }, 107, dBarTicks, 31);

// inset frames
addFrame(310, 136, 683, 919, '3px solid #f09cc6');
addFrame(2688, 256, 3098, 1055, '3px solid #f09cc6');

drawLegend();

// panel (a) annotations
addLabel('22.24', 311, 954, 43);
addLabel('28.64', 582, 954, 43);
addLabel('22.24', 816, 1253, 43);
addLabel('28.64', 978, 1253, 43);
addLabel('Max.', 791, 156, 43, { fontWeight: 'bold' });
addLabel('3950', 793, 208, 43, { fontWeight: 'bold' });
addLabel('(a)', 1320, 1185, 137, { color: '#111' });
addLabel('q', 1478, 1358, 58);

// panel (b) annotations
const fwhmTitle = addLabel('', 1658, 706, 58);
fwhmTitle.innerHTML = 'FWHM<sub style="font-size:36px">TE</sub> / a';
fwhmTitle.style.transform = 'translate(-50%,-50%) rotate(-90deg)';
addLabel('22.24', 2397, 987, 43);
addLabel('23.74', 2437, 1271, 43);
addLabel('22.24', 2758, 401, 44);
addLabel('23.74', 2840, 984, 44);
addLabel('(b)', 1852, 1185, 137, { color: '#111' });
addLabel('q', 3008, 1358, 58);

// map titles and labels
addLabel('E-field k = 0', 421, 1518, 82, { color: '#111' });
addMapText({ qx: 254, qy: 1612, zx: 67, zy: 1975, sym: 'E', sx: 1090, sy: 1563, tx: 1148, ty: 1537 });
addLabel('H-field k = 0', 2083, 1504, 84, { color: '#111' });
addMapText({ qx: 1913, qy: 1590, zx: 1722, zy: 1972, sym: 'H', sx: 2767, sy: 1559, tx: 2828, ty: 1519 });
addLabel('E-field', 319, 2672, 82, { color: '#111' });
addLabel('k=0.0017', 612, 2678, 70, { color: '#111' });
addMapText({ qx: 263, qy: 2759, zx: 75, zy: 3133, sym: 'E', sx: 1097, sy: 2751, tx: 1160, ty: 2722 });
addLabel('( c )', 258, 3447, 104, { color: '#fff' });
addLabel('H-field', 1976, 2683, 82, { color: '#111' });
addLabel('k=0.0017', 2332, 2688, 70, { color: '#111' });
addMapText({ qx: 1923, qy: 2778, zx: 1729, zy: 3159, sym: 'H', sx: 2775, sy: 2763, tx: 2841, ty: 2722 });
addLabel('( d )', 1949, 3450, 104, { color: '#fff' });
</script>
</body>
</html>
